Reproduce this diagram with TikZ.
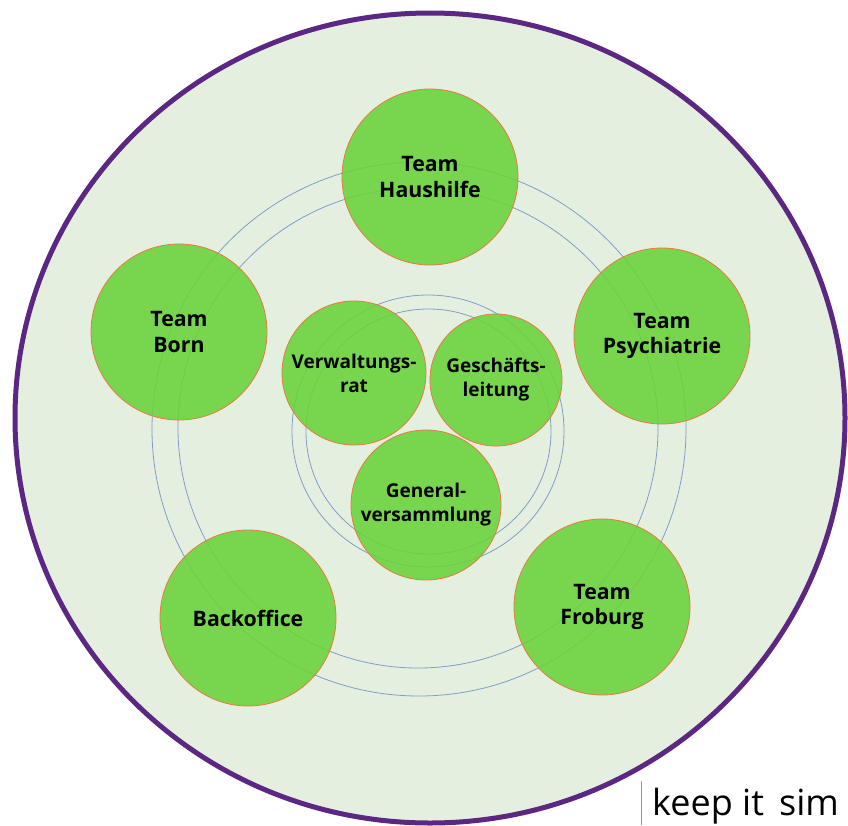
\documentclass[tikz,border=0pt]{standalone}
\usepackage{fontspec}
\setmainfont{Open Sans}
\definecolor{bgfill}{RGB}{229,239,224}
\definecolor{rimpurple}{RGB}{92,39,130}
\definecolor{ringblue}{RGB}{128,158,200}
\definecolor{teamgreen}{RGB}{104,211,57}
\definecolor{rimorange}{RGB}{232,122,62}
\definecolor{sepgray}{RGB}{150,150,150}
\tikzset{
  team/.style={circle, draw=rimorange, line width=0.8pt, fill=teamgreen, fill opacity=0.88, text opacity=1, inner sep=0pt, align=center, font=\bfseries\fontsize{21.3}{25.5}\selectfont, text=black},
  board/.style={team, font=\bfseries\fontsize{19}{24}\selectfont},
  ring/.style={draw=ringblue, line width=0.8pt}
}
\begin{document}
\begin{tikzpicture}[x=1pt,y=-1pt]
\useasboundingbox (0,0) rectangle (848,825);
\begin{scope}
\clip (0,0) rectangle (848,825);
% background disc
\draw[fill=bgfill, draw=rimpurple, line width=5pt] (430,418) ellipse [x radius=415, y radius=405];
% rings
\draw[ring] (419,429) circle [radius=267];
\draw[ring] (418,428) circle [radius=240];
\draw[ring] (428,431) circle [radius=136];
\draw[ring] (428.5,431.5) circle [radius=122.5];
% outer teams
\node[team, minimum size=176pt] (haushilfe) at (430,177) {Team\\Haushilfe};
\node[team, minimum size=176pt] (born) at (179,332) {Team\\Born};
\node[team, minimum size=176pt] (psych) at (662,336) {Team\\Psychiatrie};
\node[team, minimum size=176pt] (backoffice) at (248,618) {Backoffice};
\node[team, minimum size=176pt] (froburg) at (602,607) {Team\\Froburg};
% inner bodies
\node[board, minimum size=144pt] (vr) at (354,373) {Verwaltungs-\\rat};
\node[board, minimum size=132pt] (gl) at (496,380) {Geschäfts-\\leitung};
\node[board, minimum size=150pt] (gv) at (426,505) {General-\\versammlung};
% footer
\coordinate (septop) at (641,781);
\coordinate (sepbot) at (641,825);
\draw[sepgray, line width=1pt] (septop) -- (sepbot);
\node[anchor=base west, inner sep=0pt, font=\fontsize{36}{40}\selectfont] (motto) at (652,815) {keep it\hspace{0.42em}sim};
\end{scope}
\end{tikzpicture}
\end{document}
